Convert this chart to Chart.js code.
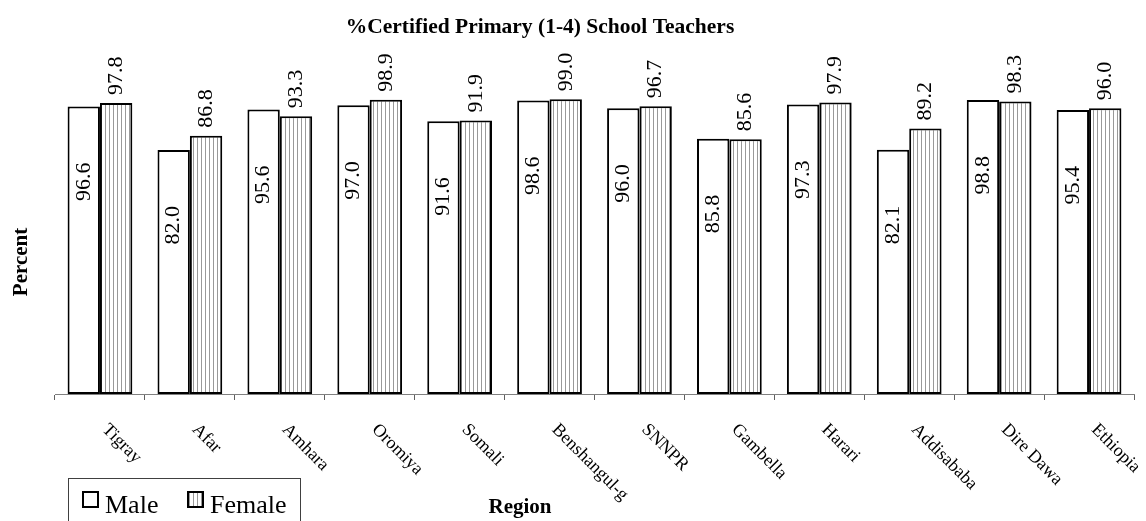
<!DOCTYPE html>
<html>
<head>
<meta charset="utf-8">
<script src="https://cdn.jsdelivr.net/npm/chart.js@4.4.1/dist/chart.umd.min.js"></script>
<style>
  body { margin: 0; background: #fff; }
  #wrap { width: 1146px; height: 521px; position: relative; }
</style>
</head>
<body>
<div id="wrap"><canvas id="chart"></canvas></div>
<script>
var regions = ["Tigray", "Afar", "Amhara", "Oromiya", "Somali", "Benshangul-g",
               "SNNPR", "Gambella", "Harari", "Addisababa", "Dire Dawa", "Ethiopia"];
var male   = [96.6, 82.0, 95.6, 97.0, 91.6, 98.6, 96.0, 85.8, 97.3, 82.1, 98.8, 95.4];
var female = [97.8, 86.8, 93.3, 98.9, 91.9, 99.0, 96.7, 85.6, 97.9, 89.2, 98.3, 96.0];

var chartTitle = '%Certified Primary (1-4) School Teachers';
var xTitle = 'Region';
var yTitle = 'Percent';

var serif = "'Liberation Serif', 'Times New Roman', serif";

// vertical hatch for female bars
function makeHatch(){
  var c = document.createElement('canvas');
  c.width = 4; c.height = 4;
  var g = c.getContext('2d');
  g.fillStyle = '#fff';
  g.fillRect(0, 0, 4, 4);
  g.fillStyle = '#999';
  g.fillRect(1, 0, 1, 4);
  return g.createPattern(c, 'repeat');
}
var hatch = makeHatch();

// numbers on the bars
var valueLabels = {
  id: 'valueLabels',
  afterDatasetsDraw: function(chart){
    var ctx = chart.ctx;
    ctx.save();
    ctx.font = '22px ' + serif;
    ctx.fillStyle = '#000';
    ctx.textBaseline = 'middle';
    chart.data.datasets.forEach(function(ds, di){
      var meta = chart.getDatasetMeta(di);
      meta.data.forEach(function(bar, i){
        var txt = ds.data[i].toFixed(1);
        ctx.save();
        if(di == 0){
          // inside the bar, a bit under its top
          ctx.translate(bar.x, bar.y + 56);
          ctx.rotate(-Math.PI / 2);
          ctx.textAlign = 'right';
        } else {
          // above the bar
          ctx.translate(bar.x, bar.y - 8);
          ctx.rotate(-Math.PI / 2);
          ctx.textAlign = 'left';
        }
        ctx.fillText(txt, 0, 0);
        ctx.restore();
      });
    });
    ctx.restore();
  }
};

// titles, slanted region names, boxed legend
var extras = {
  id: 'extras',
  afterDraw: function(chart){
    var ctx = chart.ctx;
    var xs = chart.scales.x;
    ctx.save();
    ctx.fillStyle = '#000';

    ctx.font = 'bold 21.5px ' + serif;
    ctx.textAlign = 'center';
    ctx.textBaseline = 'alphabetic';
    ctx.fillText(chartTitle, 540, 33);

    ctx.font = 'bold 21px ' + serif;
    ctx.fillText(xTitle, 520, 513);
    ctx.save();
    ctx.translate(27, 262);
    ctx.rotate(-Math.PI / 2);
    ctx.fillText(yTitle, 0, 0);
    ctx.restore();

    ctx.font = '18px ' + serif;
    ctx.textAlign = 'left';
    ctx.textBaseline = 'middle';
    regions.forEach(function(name, i){
      var px = xs.getPixelForTick(i);
      ctx.save();
      ctx.translate(px + 5, xs.top + 33);
      ctx.rotate(Math.PI / 4);
      ctx.fillText(name, 0, 0);
      ctx.restore();
    });

    // legend
    var lx = 68, ly = 478;
    ctx.strokeStyle = '#404040';
    ctx.lineWidth = 1;
    ctx.strokeRect(lx + 0.5, ly + 0.5, 232, 60);
    ctx.font = '26px ' + serif;
    ctx.textBaseline = 'alphabetic';
    var itemX = [lx + 15, lx + 120];
    chart.data.datasets.forEach(function(ds, di){
      var x = itemX[di];
      ctx.fillStyle = ds.backgroundColor;
      ctx.fillRect(x, ly + 14, 15, 15);
      ctx.strokeStyle = '#000';
      ctx.lineWidth = 2;
      ctx.strokeRect(x, ly + 14, 15, 15);
      ctx.fillStyle = '#000';
      ctx.fillText(ds.label, x + 22, ly + 35);
    });
    ctx.restore();
  }
};

var line_chart = new Chart(document.getElementById('chart'), {
  type: 'bar',
  data: {
    labels: regions,
    datasets: [{
      label: 'Male',
      data: male,
      backgroundColor: '#fff',
      borderColor: '#000',
      borderWidth: 2,
      borderSkipped: false
    }, {
      label: 'Female',
      data: female,
      backgroundColor: hatch,
      borderColor: '#000',
      borderWidth: 2,
      borderSkipped: false
    }]
  },
  options: {
    responsive: true,
    maintainAspectRatio: false,
    animation: false,
    layout: { padding: { left: 55, right: 12, top: 41, bottom: 121 } },
    datasets: { bar: { categoryPercentage: 0.72, barPercentage: 1.0 } },
    plugins: {
      legend: { display: false },
      tooltip: { enabled: false },
      title: { display: false }
    },
    scales: {
      x: {
        grid: {
          display: true,
          drawOnChartArea: false,
          drawTicks: true,
          tickLength: 6,
          color: '#606060',
          offset: true
        },
        border: { display: true, color: '#808080', width: 1 },
        ticks: { display: false }
      },
      y: {
        display: false,
        min: 0,
        max: 118.6
      }
    }
  },
  plugins: [valueLabels, extras]
});
</script>
</body>
</html>
